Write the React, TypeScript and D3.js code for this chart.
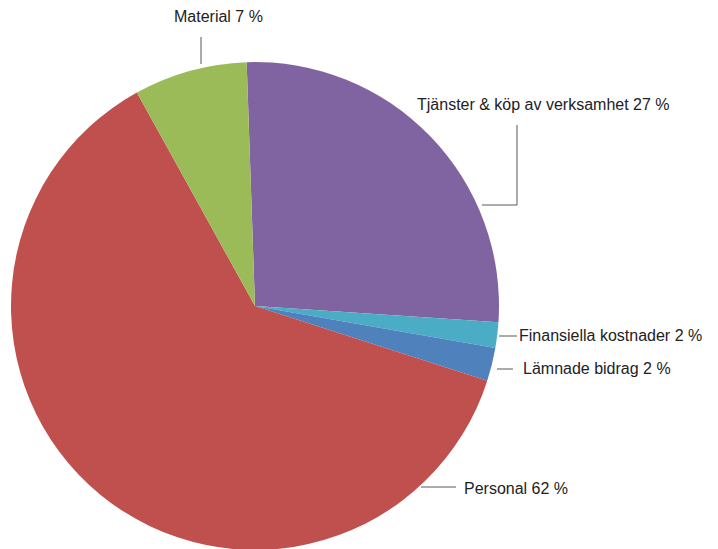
import React from 'react';
import * as d3 from 'd3';

// Slice data, clockwise from top
const categories = ['Tjänster & köp av verksamhet', 'Finansiella kostnader', 'Lämnade bidrag', 'Personal', 'Material'];
const values = [26.6, 1.7, 2.2, 62.0, 7.5];
const labels = ['Tjänster & köp av verksamhet 27 %', 'Finansiella kostnader 2 %', 'Lämnade bidrag 2 %', 'Personal 62 %', 'Material 7 %'];
const colors = ['#8064A2', '#4BACC6', '#4F81BD', '#C0504D', '#9BBB59'];

// label layout: leader polyline + text anchor
const labelLayout: { line: [number, number][]; tx: number; ty: number }[] = [
  { line: [[482, 205], [517, 205], [517, 125]], tx: 417, ty: 110 },
  { line: [[499, 336], [517, 336]], tx: 519, ty: 341 },
  { line: [[497, 369], [513, 369]], tx: 523, ty: 374 },
  { line: [[421, 487], [456, 487]], tx: 464, ty: 494 },
  { line: [[201, 64], [201, 37]], tx: 174, ty: 22 },
];

const width = 718;
const height = 549;
const cx = 255;
const cy = 306;
const radius = 244;
const startAngle = (-1.96 * Math.PI) / 180;

export default function App() {
  const pie = d3.pie<number>()
    .sort(null)
    .startAngle(startAngle)
    .endAngle(startAngle + 2 * Math.PI)(values);

  const arc = d3.arc<d3.PieArcDatum<number>>()
    .innerRadius(0)
    .outerRadius(radius);

  const line = d3.line();

  return (
    <svg width={width} height={height} style={{ position: 'absolute', left: 0, top: 0 }}
      fontFamily="'Liberation Sans', Arial, sans-serif">
      <rect width={width} height={height} fill="#ffffff" />
      <g transform={`translate(${cx},${cy})`}>
        {pie.map((d, i) => (
          <path key={categories[i]} d={arc(d) ?? ''} fill={colors[i]} />
        ))}
      </g>
      {labelLayout.map((l, i) => (
        <g key={labels[i]}>
          <path d={line(l.line) ?? ''} fill="none" stroke="#595959" strokeWidth={1} />
          <text x={l.tx} y={l.ty} fontSize={16} fill="#222">{labels[i]}</text>
        </g>
      ))}
    </svg>
  );
}
